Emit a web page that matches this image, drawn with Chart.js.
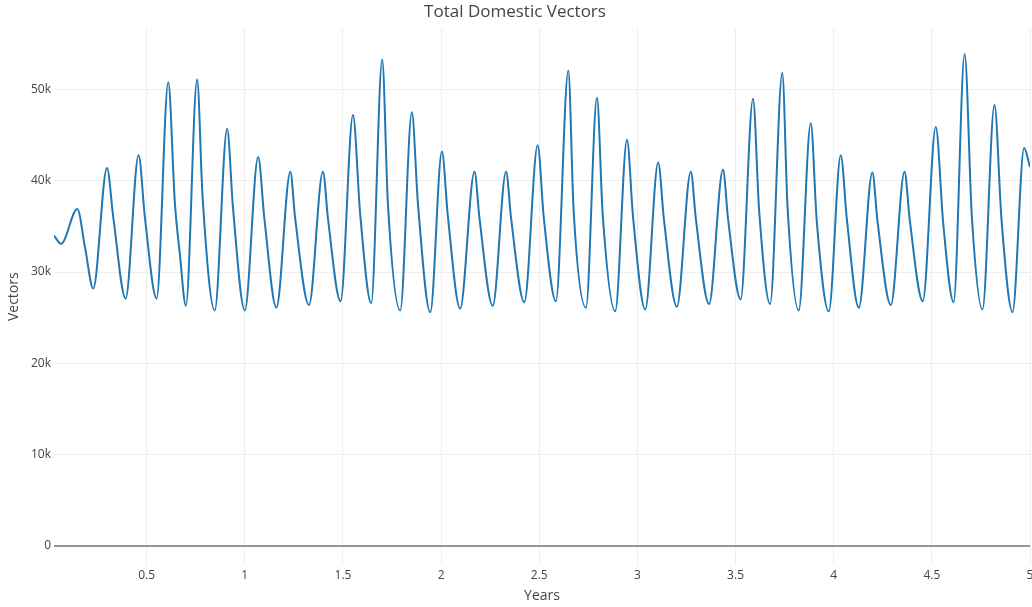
<!DOCTYPE html>
<html>
<head>
<meta charset="utf-8">
<title>Total Domestic Vectors</title>
<script src="https://cdn.jsdelivr.net/npm/chart.js@4"></script>
<style>
  body { margin: 0; background: #fff; }
  #wrap { width: 1032px; height: 607px; position: relative; }
</style>
</head>
<body>
<div id="wrap"><canvas id="vectorsChart"></canvas></div>
<script>
// values (peaks, troughs and the bend on each fall)
const years = [
  0.028, 0.064, 0.147, 0.186, 0.228, 0.298, 0.330, 0.393, 0.459, 0.491,
  0.551, 0.610, 0.644, 0.669, 0.700, 0.757, 0.785, 0.847, 0.910, 0.940,
  1.000, 1.068, 1.100, 1.161, 1.232, 1.256, 1.327, 1.398, 1.424, 1.488,
  1.551, 1.588, 1.644, 1.700, 1.729, 1.792, 1.851, 1.882, 1.945, 2.004,
  2.035, 2.097, 2.170, 2.196, 2.263, 2.331, 2.357, 2.424, 2.492, 2.523,
  2.585, 2.648, 2.675, 2.738, 2.794, 2.823, 2.887, 2.947, 2.978, 3.040,
  3.106, 3.135, 3.201, 3.272, 3.298, 3.365, 3.436, 3.462, 3.526, 3.589,
  3.620, 3.676, 3.738, 3.765, 3.822, 3.883, 3.914, 3.975, 4.036, 4.067,
  4.128, 4.197, 4.223, 4.291, 4.361, 4.387, 4.454, 4.520, 4.558, 4.611,
  4.667, 4.704, 4.758, 4.819, 4.855, 4.911, 4.970, 5.000
];
const vectors = [
  34000, 33100, 36900, 32700, 28200, 41400, 36000, 27100, 42800, 36000,
  27100, 50800, 37500, 32000, 26300, 51100, 38200, 25800, 45700, 37000,
  25800, 42600, 35800, 26100, 41000, 36000, 26400, 41000, 35800, 26800,
  47200, 36300, 26600, 53300, 37500, 25800, 47500, 37500, 25600, 43200,
  36000, 26000, 41000, 35800, 26300, 41000, 35800, 26700, 43900, 36000,
  26800, 52100, 36800, 26100, 49100, 36400, 25700, 44500, 36000, 25900,
  42000, 35800, 26200, 41000, 35800, 26500, 41200, 35800, 27000, 49000,
  36800, 26500, 51800, 37100, 25800, 46300, 35500, 25700, 42800, 35800,
  26100, 40900, 35600, 26400, 41000, 35800, 26800, 45900, 35300, 26700,
  53900, 36000, 25900, 48300, 35700, 25600, 43600, 41500
];
const xTicks = [0.5, 1, 1.5, 2, 2.5, 3, 3.5, 4, 4.5, 5];
const yTicks = [0, 10000, 20000, 30000, 40000, 50000];

const textColor = '#444';
const fontFamily = '"Open Sans", "DejaVu Sans", sans-serif';

const points = years.map((x, i) => ({ x: x, y: vectors[i] }));

const ctx = document.getElementById('vectorsChart').getContext('2d');
const chart = new Chart(ctx, {
  type: 'line',
  data: {
    datasets: [{
      label: 'Vectors',
      data: points,
      borderColor: '#1f77b4',
      borderWidth: 2,
      pointRadius: 0,
      fill: false,
      cubicInterpolationMode: 'monotone'
    }]
  },
  options: {
    responsive: true,
    maintainAspectRatio: false,
    animation: false,
    devicePixelRatio: 1,
    layout: { padding: { top: 0, right: 2, bottom: 0, left: 0 } },
    plugins: {
      legend: { display: false },
      tooltip: { enabled: false },
      title: {
        display: true,
        text: 'Total Domestic Vectors',
        color: textColor,
        font: { family: fontFamily, size: 17, weight: 'normal' },
        padding: { top: 2, bottom: 6 }
      }
    },
    scales: {
      x: {
        type: 'linear',
        min: years[0],
        max: 5,
        afterBuildTicks: s => { s.ticks = xTicks.map(v => ({ value: v })); },
        afterFit: s => { s.height = 42; s.paddingRight = 0; s.paddingLeft = 0; },
        ticks: {
          color: textColor,
          font: { family: fontFamily, size: 12 },
          padding: 3,
          maxRotation: 0,
          callback: v => String(v)
        },
        grid: { color: '#eee', lineWidth: 1, drawTicks: false },
        border: { display: false },
        title: {
          display: true,
          text: 'Years',
          color: textColor,
          font: { family: fontFamily, size: 14 },
          padding: { top: 0, bottom: 3 }
        }
      },
      y: {
        min: -2100,
        max: 56700,
        afterBuildTicks: s => { s.ticks = yTicks.map(v => ({ value: v })); },
        afterFit: s => { s.width = 54; s.paddingTop = 0; s.paddingBottom = 0; },
        ticks: {
          color: textColor,
          font: { family: fontFamily, size: 12 },
          padding: 3,
          callback: v => v === 0 ? '0' : (v / 1000) + 'k'
        },
        grid: {
          drawTicks: false,
          color: c => (c.tick && c.tick.value === 0) ? 'rgb(150,150,150)' : '#eee',
          lineWidth: c => (c.tick && c.tick.value === 0) ? 2 : 1
        },
        border: { display: false },
        title: {
          display: true,
          text: 'Vectors',
          color: textColor,
          font: { family: fontFamily, size: 14 },
          padding: { top: 6, bottom: 0 }
        }
      }
    }
  }
});
</script>
</body>
</html>
